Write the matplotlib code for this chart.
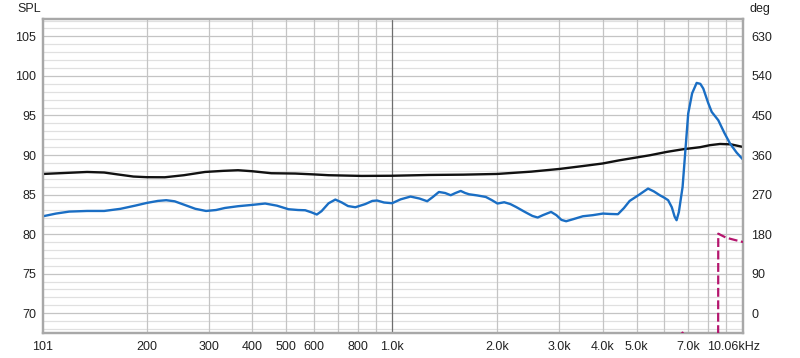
import numpy as np
import matplotlib
matplotlib.use("Agg")
import matplotlib.pyplot as plt
from matplotlib.ticker import FixedLocator, NullFormatter
import matplotlib.transforms as mtransforms

plt.rcParams['font.family'] = ['Liberation Sans', 'DejaVu Sans']

# ---- data ----
blue_freq = [101, 110, 120, 135, 151, 168, 185, 200, 215, 227, 240, 256, 275, 295,
             315, 334, 364, 400, 435, 470, 507, 540, 566, 590, 611, 630, 660, 690,
             720, 750, 787, 840, 880, 908, 950, 1002, 1060, 1131, 1200, 1262, 1310,
             1363, 1420, 1473, 1520, 1573, 1620, 1662, 1750, 1855, 1930, 2003, 2094,
             2180, 2262, 2400, 2520, 2609, 2700, 2849, 2950, 3050, 3146, 3300, 3511,
             3750, 4005, 4200, 4422, 4600, 4776, 5050, 5390, 5600, 5821, 6000, 6150,
             6300, 6420, 6501, 6600, 6763, 6900, 7018, 7200, 7418, 7600, 7748, 8000,
             8190, 8552, 8900, 9239, 9650, 10060]
blue_spl = [82.26, 82.6, 82.85, 82.93, 82.93, 83.2, 83.6, 83.95, 84.2, 84.29, 84.15,
            83.7, 83.2, 82.93, 83.05, 83.31, 83.53, 83.7, 83.87, 83.6, 83.15, 83.05,
            83.02, 82.75, 82.48, 82.9, 83.9, 84.37, 84.0, 83.55, 83.4, 83.8, 84.2,
            84.25, 84.0, 83.91, 84.4, 84.75, 84.5, 84.16, 84.7, 85.33, 85.2, 84.92,
            85.2, 85.46, 85.2, 85.04, 84.9, 84.7, 84.3, 83.87, 84.03, 83.8, 83.44,
            82.8, 82.3, 82.1, 82.4, 82.81, 82.4, 81.8, 81.63, 81.9, 82.26, 82.4,
            82.6, 82.55, 82.52, 83.3, 84.2, 84.9, 85.76, 85.4, 84.92, 84.6, 84.29,
            83.4, 82.2, 81.76, 82.8, 85.97, 91.0, 95.25, 97.8, 99.12, 99.0, 98.41,
            96.6, 95.45, 94.4, 92.8, 91.45, 90.3, 89.43]

black_freq = [101, 115, 135, 151, 165, 183, 200, 225, 255, 293, 330, 364, 400, 453,
              530, 600, 660, 820, 1000, 1276, 1600, 2000, 2500, 3009, 3500, 3997,
              4472, 5450, 6100, 6775, 7582, 8100, 8650, 9300, 10060]
black_spl = [87.61, 87.72, 87.86, 87.79, 87.55, 87.28, 87.2, 87.19, 87.45, 87.86,
             88.0, 88.08, 87.95, 87.7, 87.66, 87.55, 87.45, 87.36, 87.38, 87.48,
             87.52, 87.61, 87.9, 88.24, 88.6, 88.93, 89.34, 89.97, 90.4, 90.73,
             90.99, 91.25, 91.4, 91.35, 91.02]

phase_freq = [6600, 6760, 6900, 7500, 8000, 8540, 8550, 9000, 9500, 10060]
phase_deg = [-60, -44, -60, -120, -160, -180, 181, 172, 167, 162]

x_ticks = [101, 200, 300, 400, 500, 600, 800, 1000, 2000, 3000, 4000, 5000, 7000, 10060]
x_labels = ['101', '200', '300', '400', '500', '600', '800', '1.0k', '2.0k', '3.0k',
            '4.0k', '5.0k', '7.0k', '10.06kHz']
x_grid = [200, 300, 400, 500, 600, 700, 800, 900, 1000, 2000, 3000, 4000, 5000,
          6000, 7000, 8000, 9000]
spl_ticks = [70, 75, 80, 85, 90, 95, 100, 105]
deg_ticks = [0, 90, 180, 270, 360, 450, 540, 630]

# ---- figure ----
fig = plt.figure(figsize=(8.0, 3.58), dpi=100)
ax = fig.add_axes([43/800, 25/358, 700/800, 314/358])
ax.set_xscale('log')
ax.set_xlim(101, 10060)
ax.set_ylim(67.5, 107.2)

# grid
for yv in range(68, 108):
    col = '#c4c4c4' if yv % 5 == 0 else '#e0e0e0'
    ax.axhline(yv, color=col, lw=0.9, zorder=0)
for xv in x_grid:
    col = '#6e6e6e' if xv == 1000 else '#c4c4c4'
    ax.axvline(xv, color=col, lw=0.9, zorder=0)

ax.plot(black_freq, black_spl, color='#111111', lw=1.7, zorder=3,
        solid_joinstyle='round', solid_capstyle='round')
ax.plot(blue_freq, blue_spl, color='#1a6ec4', lw=1.7, zorder=4,
        solid_joinstyle='round', solid_capstyle='round')

ax.xaxis.set_major_locator(FixedLocator(x_ticks))
ax.set_xticklabels(x_labels)
ax.xaxis.set_minor_locator(FixedLocator([]))
ax.xaxis.set_minor_formatter(NullFormatter())
ax.set_yticks(spl_ticks)
ax.tick_params(axis='both', length=0, labelsize=9, colors='#222222')
ax.tick_params(axis='y', pad=5)
ax.tick_params(axis='x', pad=6)

# shift the last x label
lbls = ax.get_xticklabels()
off = mtransforms.ScaledTranslation(-9/100, 0, fig.dpi_scale_trans)
lbls[-1].set_transform(lbls[-1].get_transform() + off)

for s in ax.spines.values():
    s.set_color('#a8a8a8')
    s.set_linewidth(1.6)

ax2 = ax.twinx()
ax2.set_ylim(-45, 669.6)
ax2.set_yticks(deg_ticks)
ax2.tick_params(axis='y', length=0, labelsize=9, colors='#222222', pad=6)
ax2.plot(phase_freq, phase_deg, color='#b5166e', lw=1.6, dashes=(4, 1.6), zorder=5)
for s in ax2.spines.values():
    s.set_color('#a8a8a8')
    s.set_linewidth(1.6)

fig.text(17/800, 1 - 9/358, 'SPL', fontsize=9, color='#222222', va='center', ha='left')
fig.text(749/800, 1 - 9/358, 'deg', fontsize=9, color='#222222', va='center', ha='left')

fig.savefig('out.png', dpi=100, facecolor='white')
